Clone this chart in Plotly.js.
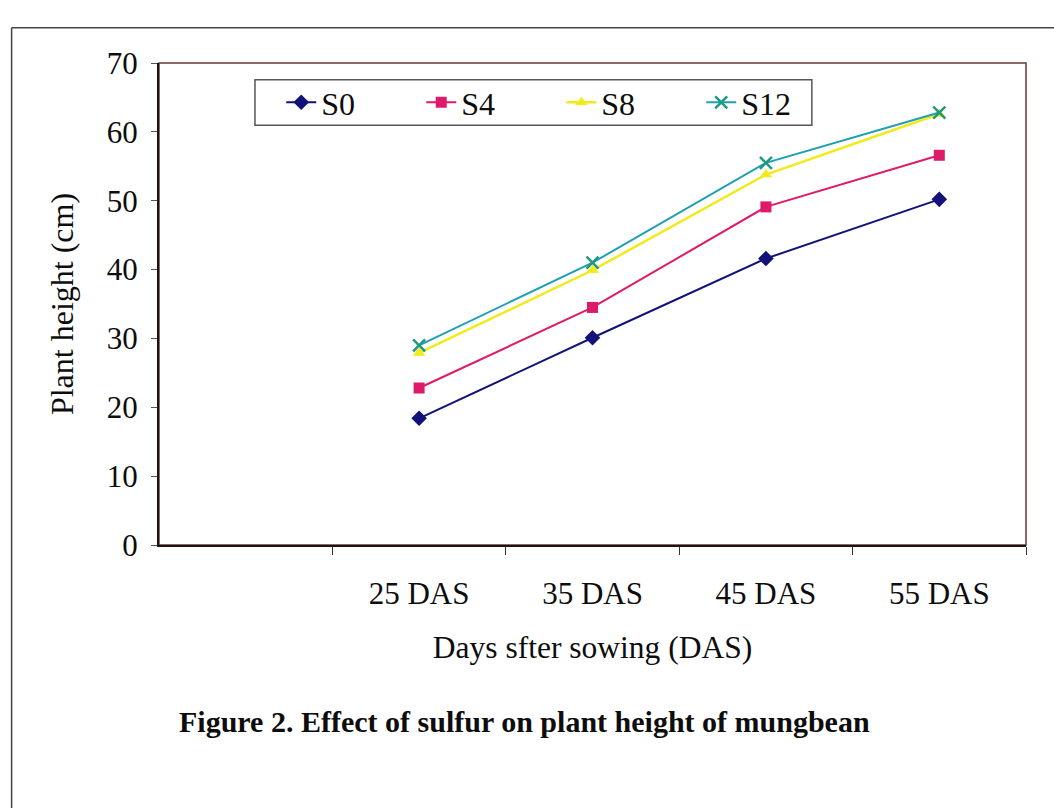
<!DOCTYPE html>
<html>
<head>
<meta charset="utf-8">
<script src="https://cdn.plot.ly/plotly-3.0.1.min.js"></script>
<style>
  html, body { margin: 0; padding: 0; background: #ffffff; }
  #chart { width: 1054px; height: 808px; }
</style>
</head>
<body>
<div id="chart"></div>
<script>
// Sampling days (x categories)
const days = ["25 DAS", "35 DAS", "45 DAS", "55 DAS"];

// Plant height (cm) for each sulfur level
const s0  = [18.4, 30.1, 41.6, 50.2];
const s4  = [22.8, 34.5, 49.1, 56.6];
const s8  = [27.9, 39.9, 53.8, 62.6];
const s12 = [29.0, 41.0, 55.5, 62.8];

const seriesNames = ["S0", "S4", "S8", "S12"];

const yTicks = [0, 10, 20, 30, 40, 50, 60, 70];

const serif = "Liberation Serif, Times New Roman, serif";

const traces = [
  {
    x: days, y: s0, name: seriesNames[0], type: "scatter", mode: "lines+markers",
    line: { color: "#12127a", width: 2 },
    marker: { symbol: "diamond", size: 12, color: "#12127a" }
  },
  {
    x: days, y: s4, name: seriesNames[1], type: "scatter", mode: "lines+markers",
    line: { color: "#e01a6a", width: 2 },
    marker: { symbol: "square", size: 11, color: "#e01a6a" }
  },
  {
    x: days, y: s8, name: seriesNames[2], type: "scatter", mode: "lines+markers",
    line: { color: "#f2ea1a", width: 2.5 },
    marker: { symbol: "triangle-up", size: 11, color: "#f2ea1a" }
  },
  {
    x: days, y: s12, name: seriesNames[3], type: "scatter", mode: "lines+markers",
    line: { color: "#1f9fb4", width: 2 },
    marker: { symbol: "x-thin", size: 12, color: "#1f9a80", line: { color: "#1f9a80", width: 2.5 } }
  }
];

// legend box edges, in plot-area fractions
const legendBox = { x0: 0.1107, x1: 0.753, y0: 0.871, y1: 0.965 };

const layout = {
  width: 1054,
  height: 808,
  paper_bgcolor: "#ffffff",
  plot_bgcolor: "#ffffff",
  margin: { l: 159, r: 28, t: 63, b: 263 },
  font: { family: serif, color: "#0d0d0d", size: 30 },
  showlegend: true,
  legend: {
    orientation: "h",
    x: 0.141, y: 0.918, xanchor: "left", yanchor: "middle",
    bgcolor: "rgba(0,0,0,0)",
    borderwidth: 0,
    entrywidth: 95,
    font: { family: serif, size: 32, color: "#0d0d0d" },
    traceorder: "normal"
  },
  xaxis: {
    type: "category",
    categoryorder: "array",
    categoryarray: days,
    range: [-1.5, 3.5],
    showline: true,
    linecolor: "#1a1414",
    linewidth: 2,
    ticks: "outside",
    tickson: "boundaries",
    ticklen: 8,
    tickcolor: "#333333",
    tickwidth: 1,
    ticklabelstandoff: 20,
    showgrid: false,
    zeroline: false,
    tickfont: { family: serif, size: 31, color: "#0d0d0d" },
    title: {
      text: "Days sfter sowing (DAS)",
      font: { family: serif, size: 31.5, color: "#0d0d0d" },
      standoff: 26
    }
  },
  yaxis: {
    range: [0, 70],
    tickvals: yTicks,
    showline: true,
    linecolor: "#1a1414",
    linewidth: 2,
    ticks: "outside",
    ticklen: 6,
    tickcolor: "#555555",
    tickwidth: 1,
    ticklabelstandoff: 7,
    showgrid: false,
    zeroline: false,
    tickfont: { family: serif, size: 31, color: "#0d0d0d" },
    title: {
      text: "Plant height (cm)",
      font: { family: serif, size: 32, color: "#0d0d0d" },
      standoff: 24
    }
  },
  shapes: [
    // plot area border
    {
      type: "rect", xref: "paper", yref: "paper", x0: 0, x1: 1, y0: 0, y1: 1,
      line: { color: "#6a3434", width: 1.5 }, layer: "below"
    },
    // legend frame
    {
      type: "rect", xref: "paper", yref: "paper",
      x0: legendBox.x0, x1: legendBox.x1, y0: legendBox.y0, y1: legendBox.y1,
      line: { color: "#555555", width: 1.5 }, fillcolor: "#ffffff", layer: "below"
    },
    // outer frame of the figure (top and left edges)
    {
      type: "line", xref: "paper", yref: "paper",
      x0: -0.17, x1: 1.04, y0: 1.073, y1: 1.073,
      line: { color: "#444444", width: 1.5 }
    },
    {
      type: "line", xref: "paper", yref: "paper",
      x0: -0.17, x1: -0.17, y0: 1.073, y1: -0.55,
      line: { color: "#444444", width: 1.5 }
    }
  ],
  annotations: [
    {
      text: "<b>Figure 2. Effect of sulfur on plant height of mungbean</b>",
      xref: "paper", yref: "paper",
      x: 0.421, y: -0.367, xanchor: "center", yanchor: "middle",
      showarrow: false,
      font: { family: serif, size: 30, color: "#0d0d0d" }
    }
  ]
};

Plotly.newPlot("chart", traces, layout, { displayModeBar: false, staticPlot: true });
</script>
</body>
</html>
